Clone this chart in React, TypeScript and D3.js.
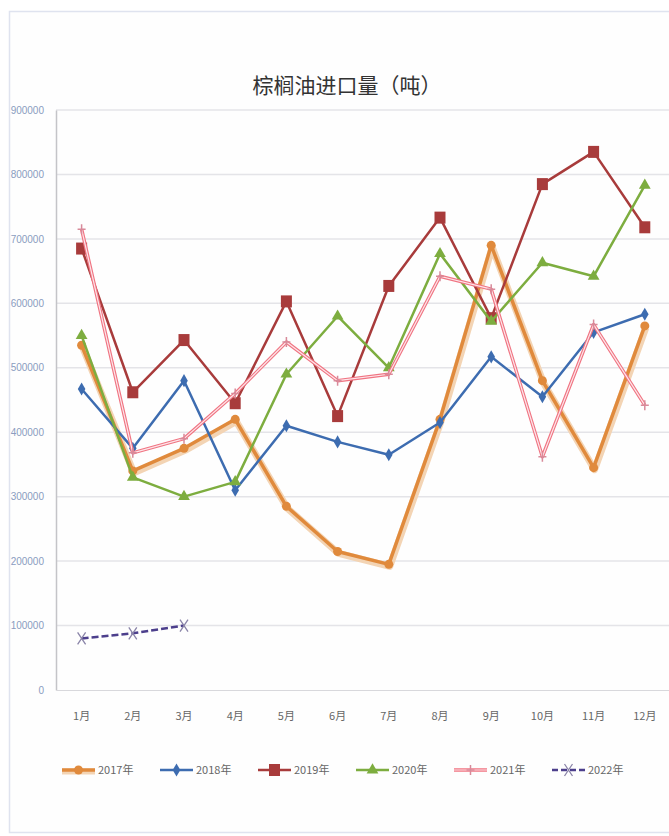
import { useEffect, useRef } from "react";
import * as d3 from "d3";

const months = ["1月", "2月", "3月", "4月", "5月", "6月", "7月", "8月", "9月", "10月", "11月", "12月"];
const yTicks = [0, 100000, 200000, 300000, 400000, 500000, 600000, 700000, 800000, 900000];

const v2017 = [535000, 340000, 375000, 420000, 285000, 215000, 195000, 420000, 690000, 480000, 345000, 565000];
const v2018 = [467000, 375000, 480000, 310000, 410000, 385000, 365000, 415000, 517000, 455000, 555000, 583000];
const v2019 = [685000, 462000, 543000, 445000, 603000, 425000, 627000, 733000, 577000, 785000, 835000, 718000];
const v2020 = [550000, 330000, 300000, 323000, 490000, 580000, 500000, 677000, 572000, 663000, 642000, 783000];
const v2021 = [715000, 368000, 390000, 460000, 540000, 480000, 490000, 642000, 622000, 362000, 567000, 442000];
const v2022 = [80000, 88000, 100000];

const series = [
  { name: "2017年", values: v2017, color: "#e08a3c", width: 3.5, marker: "circle" },
  { name: "2018年", values: v2018, color: "#3d6cb0", width: 2.5, marker: "diamond" },
  { name: "2019年", values: v2019, color: "#a83b3b", width: 2.5, marker: "square" },
  { name: "2020年", values: v2020, color: "#7dad3f", width: 2.5, marker: "triangle" },
  { name: "2021年", values: v2021, color: "#f07482", width: 3.5, marker: "plus" },
  { name: "2022年", values: v2022, color: "#4c3f8c", width: 2.5, marker: "x" },
];

const W = 669;
const H = 836;

export default function App() {
  const svgRef = useRef<SVGSVGElement>(null);

  useEffect(() => {
    const svgEl = svgRef.current;
    if (!svgEl) return;
    const svg = d3.select(svgEl);
    svg.selectAll("*").remove();

    const left = 56;
    const bandW = 51.2;
    const top = 110;
    const bottom = 690;

    // frame
    svg.append("rect").attr("width", W).attr("height", H).attr("fill", "#fff");
    svg
      .append("rect")
      .attr("x", 9.5)
      .attr("y", 11.5)
      .attr("width", W)
      .attr("height", H - 15)
      .attr("fill", "#fefefe")
      .attr("stroke", "#dfe3ef")
      .attr("stroke-width", 1.5);

    svg
      .append("text")
      .attr("x", 347)
      .attr("y", 93)
      .attr("text-anchor", "middle")
      .attr("font-family", "'Noto Sans CJK SC', sans-serif")
      .attr("font-size", 21)
      .attr("fill", "#333")
      .text("棕榈油进口量（吨）");

    const x = d3
      .scaleBand()
      .domain(months)
      .range([left, left + bandW * months.length]);
    const y = d3.scaleLinear().domain([0, 900000]).range([bottom, top]);
    const cx = (i: number) => (x(months[i]) || 0) + x.bandwidth() / 2;

    // grid
    svg
      .append("g")
      .selectAll("line")
      .data(yTicks.slice(1))
      .enter()
      .append("line")
      .attr("x1", left)
      .attr("x2", W)
      .attr("y1", (d) => y(d))
      .attr("y2", (d) => y(d))
      .attr("stroke", "#e4e4e8")
      .attr("stroke-width", 1.5);

    // y axis
    const yAxis = svg
      .append("g")
      .attr("transform", `translate(${left},0)`)
      .call(d3.axisLeft(y).tickValues(yTicks).tickSize(0).tickPadding(12).tickFormat(d3.format("d")));
    yAxis.select(".domain").attr("stroke", "#c4c4c8").attr("stroke-width", 1.5);
    yAxis
      .selectAll("text")
      .attr("font-family", "'Liberation Sans Narrow', 'Liberation Sans', sans-serif")
      .attr("font-size", 10)
      .attr("fill", "#8a9cc0");

    // x axis
    const xAxis = svg
      .append("g")
      .attr("transform", `translate(0,${bottom})`)
      .call(d3.axisBottom(x).tickSize(0).tickPadding(22));
    xAxis.select(".domain").attr("stroke", "#d8d8dc").attr("stroke-width", 1);
    xAxis
      .selectAll("text")
      .attr("font-family", "'Liberation Sans Narrow', 'Noto Sans CJK SC', sans-serif")
      .attr("font-size", 11)
      .attr("fill", "#666");

    const drawMarker = (g: any, type: string, px: number, py: number, color: string) => {
      if (type === "circle") {
        g.append("circle").attr("cx", px).attr("cy", py).attr("r", 4.5).attr("fill", color);
      } else if (type === "diamond") {
        g.append("path")
          .attr("d", d3.symbol(d3.symbolDiamond, 50)())
          .attr("transform", `translate(${px},${py})`)
          .attr("fill", color);
      } else if (type === "square") {
        g.append("rect")
          .attr("x", px - 5.5)
          .attr("y", py - 6)
          .attr("width", 11)
          .attr("height", 12)
          .attr("fill", color);
      } else if (type === "triangle") {
        g.append("path")
          .attr("d", d3.symbol(d3.symbolTriangle, 60)())
          .attr("transform", `translate(${px},${py})`)
          .attr("fill", color);
      } else if (type === "plus") {
        g.append("path")
          .attr("d", `M${px - 4},${py}H${px + 4}M${px},${py - 5}V${py + 5}`)
          .attr("stroke", "#d88a9a")
          .attr("stroke-width", 1.5);
      } else if (type === "x") {
        g.append("path")
          .attr("d", `M${px - 4},${py - 6}L${px + 4},${py + 6}M${px + 4},${py - 6}L${px - 4},${py + 6}`)
          .attr("stroke", "#8a84a8")
          .attr("stroke-width", 1.3)
          .attr("fill", "none");
      }
    };

    const line = d3
      .line<number>()
      .x((_, i) => cx(i))
      .y((d) => y(d));

    series.forEach((s) => {
      const g = svg.append("g");
      if (s.name === "2017年") {
        g.append("path")
          .attr("d", line(s.values))
          .attr("fill", "none")
          .attr("stroke", "#f3d4b4")
          .attr("stroke-width", 7)
          .attr("stroke-linejoin", "round")
          .attr("transform", "translate(1,2)");
      }
      g.append("path")
        .attr("d", line(s.values))
        .attr("fill", "none")
        .attr("stroke", s.color)
        .attr("stroke-width", s.width)
        .attr("stroke-linejoin", "round")
        .attr("stroke-dasharray", s.name === "2022年" ? "7,3" : null);
      if (s.name === "2021年") {
        g.append("path")
          .attr("d", line(s.values))
          .attr("fill", "none")
          .attr("stroke", "#fde6ea")
          .attr("stroke-width", 1.2)
          .attr("stroke-linejoin", "round");
      }
      s.values.forEach((v, i) => drawMarker(g, s.marker, cx(i), y(v), s.color));
    });

    // legend
    const legendY = 770;
    const legend = svg
      .selectAll(".legend")
      .data(series)
      .enter()
      .append("g")
      .attr("class", "legend")
      .attr("transform", (_, i) => `translate(${62 + i * 98},${legendY})`);
    legend.each(function (s) {
      const g = d3.select(this);
      if (s.name === "2017年") {
        g.append("line").attr("x1", 0).attr("x2", 33).attr("y1", 1.5).attr("y2", 1.5).attr("stroke", "#f3d4b4").attr("stroke-width", 6);
      }
      g.append("line")
        .attr("x1", 0)
        .attr("x2", 33)
        .attr("y1", 0)
        .attr("y2", 0)
        .attr("stroke", s.color)
        .attr("stroke-width", s.width)
        .attr("stroke-dasharray", s.name === "2022年" ? "6,3" : null);
      if (s.name === "2021年") {
        g.append("line").attr("x1", 0).attr("x2", 33).attr("y1", 0).attr("y2", 0).attr("stroke", "#fde6ea").attr("stroke-width", 1.2);
      }
      drawMarker(g, s.marker, 16.5, 0, s.color);
      g.append("text")
        .attr("x", 36)
        .attr("y", 4)
        .attr("font-family", "'Liberation Sans Narrow', 'Noto Sans CJK SC', sans-serif")
        .attr("font-size", 11)
        .attr("fill", "#666")
        .text(s.name);
    });

    return () => {
      svg.selectAll("*").remove();
    };
  }, []);

  return (
    <svg
      ref={svgRef}
      width={W}
      height={H}
      style={{ position: "absolute", left: 0, top: 0, display: "block" }}
    />
  );
}
